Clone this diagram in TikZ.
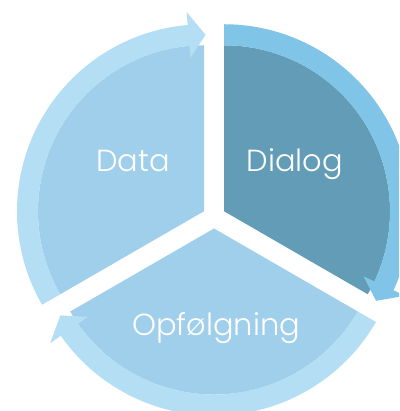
\documentclass[tikz,border=0pt]{standalone}
\usepackage{fontspec}
\newfontfamily\labelfont{Poppins Light}
\definecolor{sectorLight}{HTML}{9FCFEA}
\definecolor{sectorDark}{HTML}{639CB7}
\definecolor{ringLight}{HTML}{B3DEF4}
\definecolor{ringDark}{HTML}{80C5E7}

\begin{document}
\begin{tikzpicture}[x=1pt, y=1pt,
    steplabel/.style={text=white, anchor=base, inner sep=0pt, font=\labelfont\fontsize{30.5}{30.5}\selectfont}]
    \def\sector#1#2#3#4{
        \begin{scope}[shift={(#1)}]
            \fill[#4] (0,0) -- (#2:166) arc[start angle=#2, end angle=#3, radius=166] -- cycle;
        \end{scope}
    }
    \def\cyclearrow#1#2#3#4{
        \begin{scope}[shift={(#1)}]
            \fill[#4] (#2:187) arc[start angle=#2, end angle=#3+5, radius=187]
                -- (#3+5:200) -- (#3-0.5:176.5) -- (#3+5:154) -- (#3+5:166)
                arc[start angle=#3+5, end angle=#2, radius=166] -- cycle;
        \end{scope}
    }

    \clip (-214,-194) rectangle (185,217);

    % Data
    \sector{-10,5.75}{90}{210}{sectorLight}
    \cyclearrow{-10,5.75}{210}{90}{ringLight}
    \node[steplabel] (data) at (-81,45) {Data};

    % Dialog
    \sector{10,5.75}{-30}{90}{sectorDark}
    \cyclearrow{10,5.75}{90}{-30}{ringDark}
    \node[steplabel] (dialog) at (81,45) {Dialog};

    % Opfoelgning
    \sector{0,-11.5}{210}{330}{sectorLight}
    \cyclearrow{0,-11.5}{330}{210}{ringLight}
    \node[steplabel] (opfoelgning) at (2,-118) {Opfølgning};
\end{tikzpicture}
\end{document}
